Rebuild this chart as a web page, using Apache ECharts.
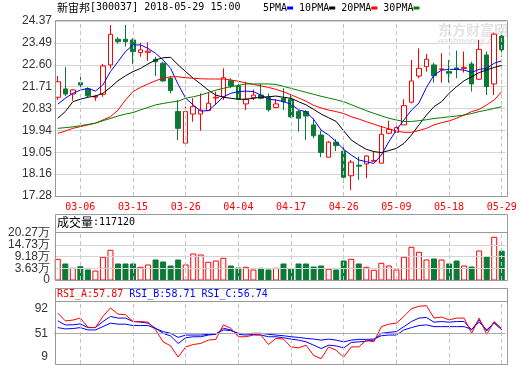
<!DOCTYPE html>
<html><head><meta charset="utf-8">
<script src="https://cdn.jsdelivr.net/npm/echarts@6/dist/echarts.min.js"></script>
<style>html,body{margin:0;padding:0;background:#fff}#c{width:520px;height:365px}</style>
</head><body><div id="c"></div><script>
const dates = ['03-01','03-02','03-05','03-06','03-07','03-08','03-09','03-12','03-13','03-14','03-15','03-16','03-19','03-20','03-21','03-22','03-23','03-26','03-27','03-28','03-29','03-30','04-02','04-03','04-04','04-09','04-10','04-11','04-12','04-13','04-16','04-17','04-18','04-19','04-20','04-23','04-24','04-25','04-26','04-27','05-02','05-03','05-04','05-07','05-08','05-09','05-10','05-11','05-14','05-15','05-16','05-17','05-18','05-21','05-22','05-23','05-24','05-25','05-28','05-29'];
const opens  = [21.28,21.62,21.41,21.87,21.62,21.28,21.40,22.59,23.63,23.63,23.60,23.09,23.10,22.82,22.66,22.05,20.70,19.42,20.60,20.60,20.74,21.25,21.30,21.95,21.74,21.01,21.26,21.37,21.28,20.87,21.24,21.20,20.70,20.70,20.16,19.75,18.85,19.46,19.10,18.10,18.53,18.58,18.69,18.61,19.82,19.86,20.16,21.08,22.14,22.52,22.59,22.41,22.32,22.47,22.45,22.63,22.01,22.99,21.82,23.76];
const closes = [21.91,21.41,21.58,21.78,21.34,21.32,22.55,23.83,23.53,23.53,23.13,23.20,23.15,22.72,21.94,21.55,20.02,20.70,20.90,20.76,21.04,21.28,22.07,21.74,21.20,21.20,21.37,21.24,20.77,21.01,21.10,20.49,20.43,20.52,19.72,19.04,19.46,19.32,18.04,18.65,18.49,18.90,18.72,19.78,19.98,20.05,20.94,21.94,22.45,22.82,22.15,22.43,22.25,22.41,22.49,21.82,23.22,21.71,23.84,23.20];
const lows   = [21.17,21.33,21.14,21.58,21.28,21.14,21.30,22.45,23.45,23.33,22.62,22.92,22.76,22.14,21.91,21.44,19.55,19.42,20.29,19.93,20.74,20.97,21.17,21.65,21.17,20.76,21.17,21.20,20.70,20.83,20.76,20.45,19.89,19.55,19.62,18.85,18.85,19.10,17.82,17.52,17.93,18.00,18.66,18.61,19.78,19.83,20.16,21.03,22.05,22.32,21.87,21.87,21.87,22.05,22.28,21.51,21.98,21.37,21.37,22.92];
const highs  = [22.14,22.50,21.61,22.18,21.68,21.37,22.63,24.21,23.72,24.21,23.67,23.49,23.51,22.92,22.72,22.14,21.17,20.90,21.24,21.44,21.47,21.51,22.45,22.05,21.98,21.91,21.60,21.82,21.44,21.20,21.64,21.37,20.76,20.76,20.43,19.93,19.50,19.58,19.28,18.74,18.87,18.94,19.07,20.12,20.33,20.23,21.20,22.79,23.26,23.03,22.68,23.06,22.79,23.17,23.13,22.72,23.60,23.13,23.90,23.90];
const ma5  = [21.00,21.24,21.44,21.57,21.64,21.53,21.78,22.32,22.72,23.13,23.40,23.40,23.26,23.06,22.79,22.45,21.80,21.24,20.97,20.72,20.74,21.00,21.30,21.44,21.51,21.53,21.51,21.37,21.20,21.17,21.10,21.00,20.77,20.69,20.39,19.95,19.75,19.48,19.17,18.94,18.74,18.67,18.60,18.94,19.48,19.95,20.36,20.76,21.05,21.68,22.18,22.38,22.41,22.41,22.38,22.29,22.41,22.45,22.66,22.76];
const ma10 = [20.43,20.70,21.10,21.20,21.28,21.33,21.44,21.68,21.95,22.15,22.32,22.45,22.63,22.79,22.88,22.90,22.59,22.32,22.05,21.82,21.57,21.37,21.28,21.24,21.20,21.20,21.24,21.28,21.30,21.33,21.28,21.24,21.10,20.97,20.79,20.60,20.45,20.30,19.92,19.55,19.35,19.17,19.08,19.04,19.12,19.21,19.41,19.75,20.16,20.56,20.90,21.10,21.44,21.71,21.95,22.11,22.28,22.39,22.49,22.57];
const ma20 = [19.82,19.91,20.02,20.09,20.16,20.23,20.36,20.49,20.76,21.17,21.51,21.68,21.82,21.95,22.05,22.11,22.11,22.07,22.05,22.03,22.02,22.02,22.02,21.98,21.93,21.86,21.80,21.74,21.68,21.60,21.50,21.38,21.25,21.12,20.95,20.85,20.76,20.70,20.62,20.49,20.40,20.29,20.19,20.09,20.00,19.91,19.86,19.86,19.93,20.02,20.16,20.25,20.32,20.43,20.56,20.70,20.79,20.97,21.17,21.51];
const ma30 = [20.02,20.05,20.08,20.13,20.18,20.23,20.33,20.42,20.52,20.60,20.66,20.77,20.87,20.97,21.03,21.08,21.12,21.24,21.30,21.37,21.47,21.57,21.64,21.71,21.76,21.82,21.82,21.82,21.82,21.80,21.72,21.64,21.56,21.48,21.40,21.32,21.25,21.18,21.10,20.98,20.86,20.74,20.63,20.53,20.43,20.36,20.30,20.30,20.33,20.37,20.42,20.45,20.49,20.52,20.56,20.62,20.70,20.76,20.83,20.90];
const volumes = [7.86,5.64,3.61,4.36,2.81,2.33,8.80,12.10,5.64,5.64,5.64,4.08,5.17,7.53,6.58,4.69,7.53,5.17,10.36,9.89,6.44,7.05,8.33,4.69,3.75,4.08,2.81,3.61,2.81,3.61,5.64,3.14,5.64,5.64,4.22,4.69,3.14,2.81,7.05,7.86,5.64,4.08,2.66,5.97,4.69,2.81,8.80,13.52,11.16,7.53,8.00,7.53,5.64,7.05,4.69,4.22,11.77,8.94,18.24,11.71];
const rsiA = [84.7,71.7,72.9,76.3,61.1,60.5,79.0,93.2,83.0,81.9,70.6,70.6,69.5,56.6,36.8,30.1,11.5,28.4,32.4,34.1,39.7,40.9,65.0,59.4,45.3,45.3,48.1,48.1,32.4,42.6,41.4,28.4,26.7,31.3,14.4,8.8,28.4,22.8,11.5,28.4,28.4,39.7,36.8,62.1,66.2,67.9,79.0,92.0,95.9,97.0,76.3,78.0,73.4,76.3,76.3,51.0,76.3,49.3,70.6,57.87];
const rsiB = [71.7,65.0,65.0,66.7,60.5,60.5,70.6,79.0,76.3,76.3,70.6,69.5,67.9,59.4,51.0,46.5,34.1,43.6,45.3,45.3,48.1,49.3,59.4,56.6,49.3,48.1,49.3,48.1,45.3,45.3,43.6,41.4,39.7,36.8,31.3,25.7,31.3,30.1,26.7,35.8,36.8,38.0,39.7,51.0,52.7,53.8,62.1,70.6,76.3,77.4,69.5,70.6,69.5,70.6,70.6,56.6,73.4,54.9,69.5,58.71];
const rsiC = [60.5,58.3,58.9,60.5,56.6,56.6,62.1,67.9,66.2,66.2,63.9,63.9,63.9,58.9,53.8,51.0,44.2,48.1,48.1,48.1,49.3,49.8,56.6,55.5,51.0,50.4,51.0,51.0,49.3,48.1,47.0,45.3,44.2,42.6,41.4,39.7,41.4,39.7,36.8,39.7,40.9,40.9,41.4,47.0,48.1,48.1,56.6,60.5,63.9,65.0,62.1,62.1,62.1,62.1,62.1,57.7,69.5,56.6,67.9,56.74];
const priceTicks = ['17.28','18.16','19.05','19.94','20.83','21.71','22.60','23.49','24.37'];
const volTicks = ['0','3.63万','9.18万','14.73万','20.27万'];
const rsiTickValues = [9, 51, 92];
const labelIdx = [3,10,17,24,31,38,45,52,59];

const RED = '#ff0000', GREEN = '#0a7a36', BLUE = '#0000ff';
const yMin = 17.28, yMax = 24.37, yStep = (yMax - yMin) / 8;
const volStep = 5.545, volMin = 3.63 - volStep, volMax = Math.round((volMin + 4 * volStep) * 1e5) / 1e5;
const volTickValues = volTicks.map((t, k) => Math.round((volMin + k * volStep) * 1e5) / 1e5);
const rsiMax = 104.7;
const L = 54, W = 451.5;
const monoFont = 'DejaVu Sans Mono';

const chart = echarts.init(document.getElementById('c'));
const vlines = labelIdx.map(i => ({xAxis: dates[i]}));
const dashLine = {color: '#c4c4c4', type: [4, 3], width: 1};
const gridLine = {color: '#d4d4d4', type: 'solid', width: 1};
function markV(extra) {
  return {silent: true, symbol: 'none', label: {show: false}, lineStyle: dashLine,
    data: vlines.concat(extra || []), animation: false};
}
const frameStyle = {stroke: '#999', fill: null, lineWidth: 1};
const axisFont = {color: '#333', fontFamily: 'Liberation Sans', fontSize: 12};
const volLabel = v => volTicks[Math.round((v - volMin) / volStep)];
function volAxis(vals) {
  return {gridIndex: 1, type: 'value', min: volMin, max: volMax, position: 'left',
    axisLine: {show: false}, axisTick: {show: false, customValues: vals},
    axisLabel: Object.assign({customValues: vals, formatter: volLabel, margin: 4}, axisFont),
    splitLine: {show: false}};
}

const option = {
  animation: false,
  backgroundColor: '#fff',
  grid: [
    {left: L, top: 21, width: W, height: 175},
    {left: L, top: 233, width: W, height: 47},
    {left: L, top: 301, width: W, height: 63}
  ],
  xAxis: [0, 1, 2].map(g => ({
    type: 'category', gridIndex: g, data: dates, boundaryGap: true,
    axisLine: {show: false}, axisTick: {show: false},
    axisLabel: g === 0 ? {show: true, interval: (i) => labelIdx.includes(i), color: RED,
      fontFamily: monoFont, fontSize: 10, margin: 6} : {show: false},
    splitLine: {show: false}
  })),
  yAxis: [
    {gridIndex: 0, type: 'value', min: yMin, max: yMax, interval: yStep,
      axisLine: {show: false}, axisTick: {show: false},
      axisLabel: Object.assign({formatter: v => priceTicks[Math.round((v - yMin) / yStep)], margin: 2}, axisFont),
      splitLine: {lineStyle: gridLine}},
    volAxis(volTickValues.filter((v, k) => k % 2 === 0)),
    {gridIndex: 2, type: 'value', min: 0, max: rsiMax,
      axisLine: {show: false}, axisTick: {show: false},
      axisLabel: Object.assign({customValues: rsiTickValues,
        formatter: v => v === rsiTickValues[0] ? '{lo|' + v + '}' : String(v),
        rich: {lo: Object.assign({padding: [0, 0, 3, 0]}, axisFont)}, margin: 6}, axisFont),
      splitLine: {show: false}},
    volAxis(volTickValues.filter((v, k) => k % 2 === 1))
  ],
  series: [
    {type: 'candlestick', xAxisIndex: 0, yAxisIndex: 0, barWidth: 5,
      data: dates.map((d, i) => [opens[i], closes[i], lows[i], highs[i]]),
      itemStyle: {color: '#fff', color0: GREEN, borderColor: RED, borderColor0: GREEN, borderWidth: 1},
      markLine: markV()},
    {name: '5PMA', type: 'line', xAxisIndex: 0, yAxisIndex: 0, data: ma5, showSymbol: false, lineStyle: {color: BLUE, width: 1}},
    {name: '10PMA', type: 'line', xAxisIndex: 0, yAxisIndex: 0, data: ma10, showSymbol: false, lineStyle: {color: '#000', width: 1}},
    {name: '20PMA', type: 'line', xAxisIndex: 0, yAxisIndex: 0, data: ma20, showSymbol: false, lineStyle: {color: RED, width: 1}},
    {name: '30PMA', type: 'line', xAxisIndex: 0, yAxisIndex: 0, data: ma30, showSymbol: false, lineStyle: {color: '#008000', width: 1}},
    {type: 'custom', xAxisIndex: 1, yAxisIndex: 1,
      data: volumes.map((v, i) => [i, v, closes[i] >= opens[i] ? 1 : 0]),
      encode: {x: 0, y: 1},
      renderItem: (params, api) => {
        const top = api.coord([api.value(0), api.value(1)]);
        const base = api.coord([api.value(0), volMin]);
        const w = 5;
        const up = api.value(2) === 1;
        return {type: 'rect',
          shape: {x: top[0] - w / 2, y: top[1], width: w, height: base[1] - top[1]},
          style: up ? {fill: '#fff', stroke: RED, lineWidth: 1} : {fill: GREEN, stroke: GREEN, lineWidth: 1}};
      },
      markLine: markV(volTickValues.slice(1, 4).map(v => ({yAxis: v, lineStyle: gridLine})))},
    {type: 'line', xAxisIndex: 2, yAxisIndex: 2, data: rsiC, showSymbol: false, lineStyle: {color: BLUE, width: 1},
      markLine: markV([{yAxis: 51, lineStyle: {color: '#aaa', type: 'solid', width: 1}}])},
    {type: 'line', xAxisIndex: 2, yAxisIndex: 2, data: rsiB, showSymbol: false, lineStyle: {color: BLUE, width: 1}},
    {type: 'line', xAxisIndex: 2, yAxisIndex: 2, data: rsiA, showSymbol: false, lineStyle: {color: RED, width: 1}}
  ],
  graphic: [
    {type: 'rect', shape: {x: 55.5, y: 20.5, width: 452, height: 176}, style: frameStyle, silent: true, z: 100},
    {type: 'rect', shape: {x: 55.5, y: 214.5, width: 452, height: 66}, style: frameStyle, silent: true, z: 100},
    {type: 'line', shape: {x1: 55.5, y1: 232.5, x2: 507.5, y2: 232.5}, style: {stroke: '#999', lineWidth: 1}, silent: true, z: 100},
    {type: 'rect', shape: {x: 55.5, y: 288.5, width: 452, height: 76}, style: frameStyle, silent: true, z: 100},
    {type: 'line', shape: {x1: 55.5, y1: 301.5, x2: 507.5, y2: 301.5}, style: {stroke: '#999', lineWidth: 1}, silent: true, z: 100},
    {type: 'text', left: 438, top: 23, z: 1, silent: true,
      style: {text: '东方财富网', fill: '#e4e4e4', font: 'bold 14px "Noto Sans CJK SC"'}},
    {type: 'text', left: 438, top: 37, z: 1, silent: true,
      style: {text: 'eastmoney.com', fill: '#e4e4e4', font: 'italic bold 9px "Liberation Sans"'}},
    {type: 'text', left: 57, top: 2, silent: true,
      style: {text: '{cn|新宙邦}{m|[300037] 2018-05-29 15:00}',
        rich: {cn: {fontFamily: 'Noto Sans CJK SC', fontSize: 11, fill: '#000'},
               m: {fontFamily: monoFont, fontSize: 10, fill: '#000'}}}},
    {type: 'text', left: 263, top: 3, silent: true,
      style: {text: '5PMA{b|} 10PMA{k|} 20PMA{r|} 30PMA{g|}', fontFamily: monoFont, fontSize: 10, fill: '#000',
        rich: {b: {backgroundColor: BLUE, width: 6, height: 3},
               k: {backgroundColor: '#000', width: 6, height: 3},
               r: {backgroundColor: RED, width: 6, height: 3},
               g: {backgroundColor: '#008000', width: 6, height: 3}}}},
    {type: 'text', left: 57, top: 216, silent: true,
      style: {text: '{cn|成交量}{m|:117120}',
        rich: {cn: {fontFamily: 'Noto Sans CJK SC', fontSize: 12, fill: '#000'},
               m: {fontFamily: monoFont, fontSize: 10, fill: '#000'}}}},
    {type: 'text', left: 57, top: 289, silent: true,
      style: {text: '{r|RSI_A:57.87} {b|RSI_B:58.71} {b|RSI_C:56.74}', fontFamily: monoFont, fontSize: 10,
        rich: {r: {fill: RED, fontFamily: monoFont, fontSize: 10}, b: {fill: BLUE, fontFamily: monoFont, fontSize: 10}}}}
  ]
};
chart.setOption(option);
</script></body></html>
